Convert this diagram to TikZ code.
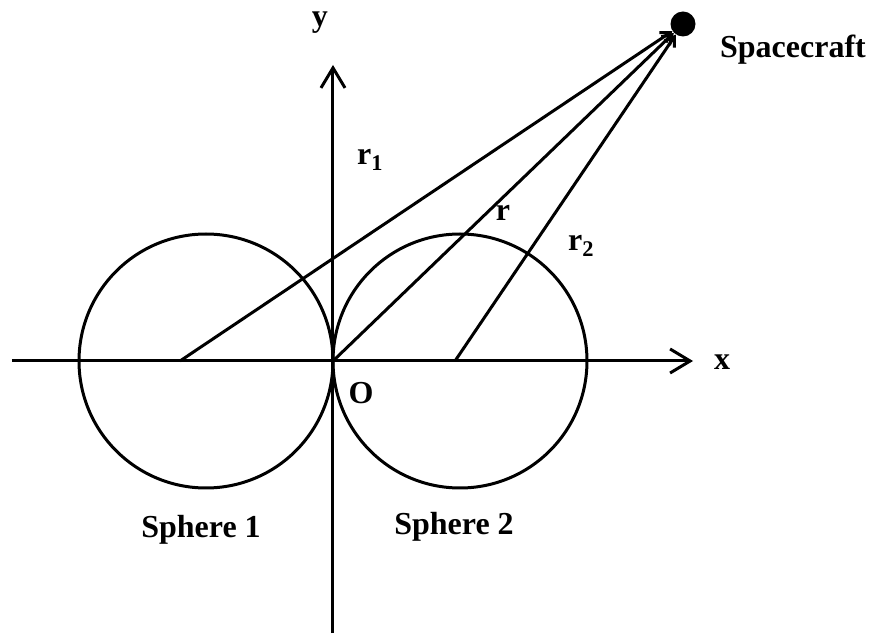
\documentclass[tikz,border=0pt]{standalone}
\usepackage{fontspec}
\setmainfont{Liberation Serif}
\usetikzlibrary{arrows.meta}

\begin{document}
\begin{tikzpicture}[x=1pt, y=1pt,
    lbl/.style = {font=\fontsize{32}{36}\selectfont\bfseries, inner sep=0pt},
    axis/.style = {line width=3pt, -{Straight Barb[length=20pt, width=24pt]}},
    vec/.style = {line width=3pt, -{Straight Barb[length=9pt, width=12pt]}}]
    \def\rad{127}
    \useasboundingbox (-333,-276) rectangle (543,361);

    \coordinate (O) at (0,0);
    \coordinate (C1) at (-\rad,0);
    \coordinate (C2) at (\rad,0);
    %start of the vectors
    \coordinate (S1) at (-153,0);
    \coordinate (S2) at (122,0);
    %axes
    \coordinate (xa) at (-321,0);
    \coordinate (xb) at (360,0);
    \coordinate (ya) at (0,-272);
    \coordinate (yb) at (0,296);
    \draw[axis] (xa) -- (xb);
    \draw[axis] (ya) -- (yb);

    %spheres
    \draw[line width=3pt] (C1) circle (\rad pt);
    \draw[line width=3pt] (C2) circle (\rad pt);

    %spacecraft and vectors
    \node[circle, fill, minimum size=25pt, inner sep=0pt] (sc) at (350,337) {};
    \draw[vec] (S1) -- (sc);
    \draw[vec] (O) -- (sc);
    \draw[vec] (S2) -- (sc);

    %labels
    \node[lbl] (ylab) at (-13,338) {y};
    \node[lbl] (xlab) at (389,-1) {x};
    \node[lbl] (olab) at (28,-32) {O};
    \node[lbl] (r1lab) at (37,201) {r\textsubscript{1}};
    \node[lbl] (rlab) at (170,148) {r};
    \node[lbl] (r2lab) at (248,115) {r\textsubscript{2}};
    \node[lbl] (sclab) at (460,311) {Spacecraft};
    \node[lbl] (s1lab) at (-132,-169) {Sphere 1};
    \node[lbl] (s2lab) at (121,-166) {Sphere 2};
\end{tikzpicture}
\end{document}
